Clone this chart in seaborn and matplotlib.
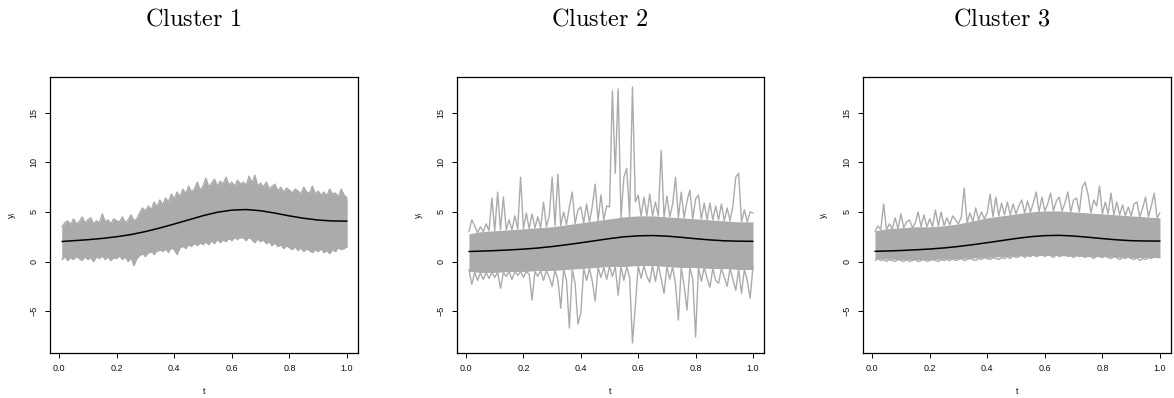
import numpy as np
import matplotlib
matplotlib.use("Agg")
import matplotlib.pyplot as plt
import seaborn as sns

# ---------------- data ----------------
t = np.arange(1, 101) / 100.0          # sampling grid t = 0.01 ... 1.00
t_mean = np.array([0.01, 0.05, 0.10, 0.15, 0.20, 0.25, 0.30, 0.35, 0.40, 0.45, 0.50,
                   0.55, 0.60, 0.65, 0.70, 0.75, 0.80, 0.85, 0.90, 0.95, 1.00])

titles = ["Cluster 1", "Cluster 2", "Cluster 3"]
x_ticks = [0.0, 0.2, 0.4, 0.6, 0.8, 1.0]
x_tick_labels = ["0.0", "0.2", "0.4", "0.6", "0.8", "1.0"]
y_ticks = [-5, 0, 5, 10, 15]
y_tick_labels = ["\u22125", "0", "5", "10", "15"]

# mean curves (black)
mean1 = [2.02, 2.10, 2.20, 2.33, 2.50, 2.72, 3.02, 3.38, 3.78, 4.20, 4.62,
         4.97, 5.18, 5.24, 5.12, 4.88, 4.60, 4.36, 4.18, 4.09, 4.07]
mean2 = [1.01, 1.05, 1.10, 1.17, 1.25, 1.36, 1.51, 1.69, 1.89, 2.10, 2.31,
         2.49, 2.59, 2.62, 2.56, 2.44, 2.30, 2.18, 2.09, 2.05, 2.04]
mean3 = [1.03, 1.06, 1.11, 1.18, 1.26, 1.37, 1.52, 1.70, 1.90, 2.11, 2.32,
         2.50, 2.61, 2.64, 2.57, 2.45, 2.31, 2.19, 2.10, 2.07, 2.06]

# dense core of the grey band (on t_mean grid)
core_hi1 = [3.5, 3.8, 3.9, 3.9, 3.9, 4.0, 4.7, 5.4, 6.0, 6.5, 6.9,
            7.2, 7.4, 7.4, 7.2, 6.9, 6.7, 6.6, 6.5, 6.4, 6.2]
core_lo1 = [0.4, 0.4, 0.4, 0.5, 0.5, 0.5, 0.8, 1.1, 1.3, 1.6, 1.9,
            2.1, 2.3, 2.4, 2.2, 1.8, 1.5, 1.3, 1.2, 1.2, 1.5]
core_hi2 = [2.8, 3.0, 3.1, 3.2, 3.3, 3.4, 3.5, 3.7, 3.9, 4.1, 4.3,
            4.5, 4.6, 4.6, 4.5, 4.4, 4.3, 4.2, 4.1, 4.0, 4.0]
core_lo2 = [-1.0, -1.1, -1.1, -1.0, -1.0, -0.9, -0.9, -0.8, -0.7, -0.6, -0.5,
            -0.5, -0.4, -0.4, -0.5, -0.6, -0.6, -0.7, -0.7, -0.8, -0.8]
core_hi3 = [3.1, 3.3, 3.4, 3.5, 3.5, 3.6, 3.8, 4.1, 4.4, 4.6, 4.8,
            5.0, 5.1, 5.1, 5.0, 4.9, 4.8, 4.7, 4.6, 4.5, 4.4]
core_lo3 = [0.3, 0.25, 0.2, 0.2, 0.2, 0.25, 0.3, 0.35, 0.4, 0.5, 0.55,
            0.6, 0.6, 0.6, 0.55, 0.5, 0.5, 0.45, 0.4, 0.4, 0.45]

# outer edges of the grey curves (on t grid)
upper1 = [3.5, 3.9, 4.1, 3.7, 4.3, 3.8, 4.0, 4.5, 3.9, 4.2,
          4.4, 3.8, 4.1, 3.9, 4.8, 4.0, 4.2, 3.8, 4.3, 4.1,
          4.0, 4.5, 3.9, 4.2, 4.7, 4.1, 4.3, 4.9, 5.4, 5.1,
          5.6, 5.2, 6.0, 5.5, 6.2, 5.7, 6.4, 6.0, 6.8, 6.3,
          7.0, 6.5, 7.3, 6.8, 7.6, 7.0, 7.3, 8.0, 7.2, 7.6,
          8.4, 7.5, 7.9, 8.3, 7.6, 8.1, 7.8, 8.5, 7.7, 8.0,
          7.6, 8.2, 7.8, 8.0, 7.7, 8.6, 7.9, 8.7, 7.6, 7.9,
          7.5, 8.0, 7.3, 7.6, 7.8, 7.1, 7.5, 7.0, 7.4, 7.2,
          6.9, 7.3, 7.1, 6.8, 7.5, 7.0, 6.9, 7.6, 6.8, 7.1,
          6.7, 7.0, 6.6, 7.3, 6.8, 6.9, 6.5, 7.3, 6.7, 6.4]
lower1 = [0.2, 0.5, 0.1, 0.4, 0.2, 0.6, 0.3, 0.1, 0.5, 0.2,
          0.4, 0.0, 0.5, 0.3, 0.6, 0.2, 0.5, 0.1, 0.4, 0.3,
          0.6, 0.2, 0.5, 0.0, 0.4, -0.4, 0.3, 0.6, 0.8, 0.5,
          0.9, 1.2, 0.7, 1.1, 1.4, 1.0, 1.3, 0.9, 1.5, 1.2,
          0.7, 1.4, 1.6, 1.3, 1.8, 1.5, 2.0, 1.6, 1.9, 1.7,
          2.0, 1.7, 2.1, 1.8, 2.3, 1.9, 2.2, 2.0, 2.4, 2.1,
          2.5, 2.2, 2.6, 2.4, 2.1, 2.5, 2.2, 1.9, 2.3, 2.0,
          2.2, 1.8, 2.0, 1.6, 1.9, 1.5, 1.7, 1.3, 1.6, 1.4,
          1.2, 1.5, 1.1, 1.4, 1.0, 1.3, 1.1, 0.9, 1.2, 1.0,
          1.3, 0.9, 1.1, 0.8, 1.2, 1.0, 1.4, 1.2, 1.3, 1.5]

upper2 = [3.0, 4.2, 3.6, 2.9, 3.5, 3.0, 3.8, 3.1, 6.4, 3.1,
          7.0, 3.2, 6.5, 3.2, 4.2, 3.2, 4.6, 3.3, 8.5, 3.3,
          4.9, 3.3, 4.8, 3.4, 4.5, 3.4, 6.0, 3.5, 4.6, 8.5,
          3.6, 8.8, 3.6, 5.0, 3.7, 5.5, 7.0, 3.8, 5.2, 5.5,
          3.9, 5.8, 4.0, 5.6, 7.8, 4.1, 6.7, 4.2, 5.6, 5.5,
          17.2, 8.9, 17.4, 4.4, 8.5, 9.4, 4.5, 17.6, 6.0, 6.7,
          4.6, 6.5, 4.6, 6.8, 4.6, 6.0, 4.6, 11.2, 4.5, 6.6,
          4.5, 5.8, 8.5, 4.4, 7.0, 4.4, 6.1, 7.2, 4.3, 6.3,
          6.7, 4.3, 5.9, 4.2, 5.9, 4.2, 5.6, 4.2, 5.8, 4.1,
          5.4, 4.1, 5.6, 8.5, 8.9, 4.0, 5.2, 4.0, 5.0, 4.9]
lower2 = [-0.8, -2.3, -1.1, -1.9, -1.1, -1.8, -1.1, -1.7, -1.1, -1.6,
          -1.1, -2.7, -1.1, -1.5, -1.0, -1.8, -1.0, -1.4, -1.0, -1.6,
          -1.0, -1.3, -3.9, -1.0, -1.5, -0.9, -1.9, -0.9, -1.6, -2.5,
          -0.9, -1.8, -4.7, -0.8, -1.9, -6.7, -0.8, -2.2, -6.3, -5.2,
          -0.7, -1.9, -0.7, -2.0, -4.0, -0.6, -1.6, -0.6, -1.8, -0.5,
          -1.5, -0.5, -3.4, -0.5, -1.9, -0.5, -1.6, -8.2, -4.4, -0.4,
          -1.7, -0.4, -1.5, -2.1, -0.4, -2.0, -0.4, -1.7, -3.2, -0.5,
          -1.8, -0.5, -2.3, -5.9, -0.6, -2.4, -4.9, -0.6, -1.8, -7.6,
          -0.6, -2.0, -0.6, -1.7, -2.6, -0.7, -1.9, -2.2, -0.7, -1.6,
          -2.5, -0.7, -1.8, -2.9, -0.8, -3.2, -0.8, -1.9, -3.7, -0.5]

upper3 = [3.0, 3.6, 3.2, 5.8, 3.2, 3.8, 3.3, 4.4, 3.3, 4.8,
          3.4, 4.0, 4.2, 3.4, 3.9, 5.0, 3.5, 4.7, 3.5, 4.3,
          3.5, 5.2, 3.6, 5.0, 3.6, 4.4, 3.7, 4.6, 4.2, 3.8,
          4.5, 7.4, 3.9, 4.9, 4.0, 5.4, 4.2, 5.0, 4.3, 4.9,
          6.8, 4.5, 6.5, 4.6, 5.9, 4.7, 6.0, 4.7, 5.8, 4.8,
          5.6, 6.2, 4.9, 6.1, 5.0, 5.9, 7.0, 5.0, 6.5, 5.1,
          5.8, 6.9, 5.1, 6.1, 6.5, 5.1, 5.9, 7.0, 5.0, 6.2,
          6.4, 5.0, 7.5, 8.0, 6.8, 4.9, 6.2, 5.6, 7.6, 4.8,
          6.0, 4.8, 6.9, 4.7, 6.0, 4.7, 5.7, 4.6, 5.5, 4.6,
          5.8, 6.0, 4.5, 5.4, 6.5, 4.5, 5.6, 6.9, 4.4, 4.9]
lower3 = [0.1, 0.3, 0.1, 0.2, 0.0, 0.2, 0.1, 0.0, 0.2, 0.1,
          0.0, 0.2, 0.0, 0.1, 0.2, 0.0, 0.1, 0.2, 0.0, 0.1,
          0.2, 0.1, 0.0, 0.2, 0.1, 0.2, 0.1, 0.3, 0.1, 0.2,
          0.3, 0.1, 0.2, 0.3, 0.2, 0.1, 0.3, 0.2, 0.4, 0.3,
          0.2, 0.4, 0.3, 0.2, 0.4, 0.3, 0.5, 0.3, 0.6, 0.4,
          0.5, 0.7, 0.4, 0.6, 0.5, 0.7, 0.5, 0.6, 0.8, 0.5,
          0.7, 0.6, 0.4, 0.7, 0.5, 0.6, 0.8, 0.5, 0.6, 0.4,
          0.7, 0.5, 0.6, 0.4, 0.6, 0.5, 0.3, 0.6, 0.5, 0.4,
          0.6, 0.4, 0.3, 0.5, 0.4, 0.2, 0.4, 0.3, 0.5, 0.3,
          0.2, 0.4, 0.1, 0.3, 0.2, 0.4, 0.3, 0.5, 0.4, 0.4]

clusters = [
    dict(mean=mean1, core_hi=core_hi1, core_lo=core_lo1, upper=upper1, lower=lower1),
    dict(mean=mean2, core_hi=core_hi2, core_lo=core_lo2, upper=upper2, lower=lower2),
    dict(mean=mean3, core_hi=core_hi3, core_lo=core_lo3, upper=upper3, lower=lower3),
]

# ---------------- styling ----------------
sns.set_theme(style="ticks")
plt.rcParams["font.family"] = ["Liberation Sans", "DejaVu Sans"]

GRAY = "#ABABAB"
W, H = 1174, 398
fig = plt.figure(figsize=(W / 100, H / 100), dpi=100)

# axes boxes in pixels: (left, right)
boxes = [(50, 358), (457, 764), (863, 1171)]
top_px, bot_px = 76.7, 353
title_x = [193, 600, 1002]
FS = 6.5

for i, (cl, (l, r)) in enumerate(zip(clusters, boxes)):
    ax = fig.add_axes([l / W, 1 - bot_px / H, (r - l) / W, (bot_px - top_px) / H])
    ax.set_facecolor("white")

    ax.fill_between(t_mean, cl["core_lo"], cl["core_hi"], color=GRAY, lw=0)
    if i == 0:
        ax.fill_between(t, cl["lower"], cl["upper"], color=GRAY, lw=0)
    sns.lineplot(x=t, y=np.array(cl["upper"]), ax=ax, color=GRAY, lw=1.0,
                 estimator=None, sort=False)
    sns.lineplot(x=t, y=np.array(cl["lower"]), ax=ax, color=GRAY, lw=1.0,
                 estimator=None, sort=False)
    sns.lineplot(x=t_mean, y=np.array(cl["mean"]), ax=ax, color="black", lw=1.1,
                 estimator=None, sort=False)

    ax.set_xlim(-0.0316, 1.0384)
    ax.set_ylim(-9.22, 18.63)
    ax.set_xticks(x_ticks)
    ax.set_xticklabels(x_tick_labels, fontsize=FS)
    ax.set_yticks(y_ticks)
    ax.set_yticklabels(y_tick_labels, fontsize=FS, rotation=90, va="center")
    ax.tick_params(axis="both", direction="out", length=3.6, width=0.7,
                   color="black", labelcolor="#111111")
    ax.tick_params(axis="x", pad=4.5)
    ax.tick_params(axis="y", pad=4.5)
    for s in ax.spines.values():
        s.set_visible(True)
        s.set_color("black")
        s.set_linewidth(0.9)
    ax.set_xlabel("")
    ax.set_ylabel("")
    ax.grid(False)

    ax.text(0.5, -(391.7 - bot_px) / (bot_px - top_px), "t", transform=ax.transAxes,
            ha="center", va="center", fontsize=FS, color="#111111")
    ax.text(-38 / (r - l), 0.5, r"$\mathregular{y_i}$", transform=ax.transAxes,
            ha="center", va="center", rotation=90, fontsize=FS, color="#111111")

    fig.text(title_x[i] / W, 1 - 26 / H, r"$\mathrm{" + titles[i].replace(" ", r"\ ") + "}$",
             ha="center", va="baseline", fontsize=17.5, math_fontfamily="cm",
             color="black")

fig.savefig("out.png", dpi=100, facecolor="white")
